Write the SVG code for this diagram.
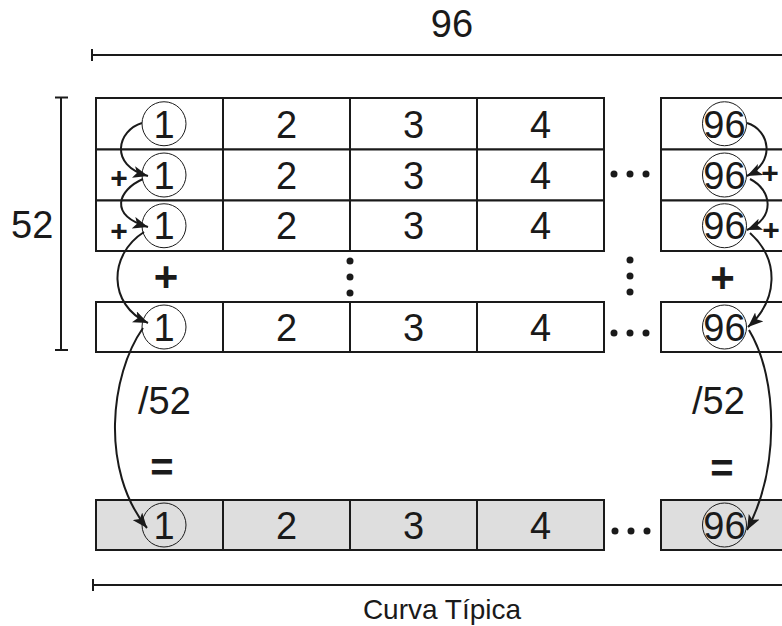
<svg xmlns="http://www.w3.org/2000/svg" width="782" height="626" viewBox="0 0 782 626">
<style>
.c{fill:#fff;stroke:#1a1a1a;stroke-width:2}
.g{fill:#dedede;stroke:#1a1a1a;stroke-width:2}
.o{fill:none;stroke:#1a1a1a;stroke-width:1}
.t{font-family:"Liberation Sans",Arial,sans-serif;font-size:38px;fill:#1a1a1a;text-anchor:middle}
.s{font-family:"Liberation Sans",Arial,sans-serif;fill:#1a1a1a;text-anchor:middle}
.b{font-family:"Liberation Sans",Arial,sans-serif;fill:#1a1a1a;text-anchor:middle;font-weight:bold}
.d{fill:#1a1a1a}
.ln{stroke:#1a1a1a;stroke-width:2;fill:none}
.ar{stroke:#1a1a1a;stroke-width:2;fill:none;marker-end:url(#ah)}
</style>
<defs>
<marker id="ah" markerUnits="userSpaceOnUse" markerWidth="16" markerHeight="12" refX="15" refY="6" orient="auto">
<path d="M0,0 L15,6 L0,12 L3.5,6 z" fill="#1a1a1a"/>
</marker>
</defs>
<rect width="782" height="626" fill="#fff"/>

<g id="dim-top">
<line class="ln" x1="92" y1="55" x2="782" y2="55"/>
<line class="ln" x1="92" y1="49" x2="92" y2="61"/>
<text class="t" x="452" y="37">96</text>
</g>
<g id="dim-left">
<line class="ln" x1="61" y1="97.5" x2="61" y2="350"/>
<line class="ln" x1="55" y1="97.5" x2="68" y2="97.5"/>
<line class="ln" x1="55" y1="350" x2="68" y2="350"/>
<text class="t" x="11" y="237.5" style="text-anchor:start">52</text>
</g>
<g id="dim-bottom">
<line class="ln" x1="93" y1="585" x2="782" y2="585"/>
<line class="ln" x1="93" y1="579" x2="93" y2="591"/>
<text class="s" x="442" y="619" font-size="28">Curva Típica</text>
</g>

<g id="row1">
<g id="r1c1"><rect class="c" x="96" y="98" width="127" height="51.5"/><circle class="o" cx="164" cy="123.75" r="22"/><text class="t" x="164" y="137.5">1</text></g>
<g id="r1c2"><rect class="c" x="223" y="98" width="127" height="51.5"/><text class="t" x="286.5" y="137.5">2</text></g>
<g id="r1c3"><rect class="c" x="350" y="98" width="127" height="51.5"/><text class="t" x="413.5" y="137.5">3</text></g>
<g id="r1c4"><rect class="c" x="477" y="98" width="127" height="51.5"/><text class="t" x="540.5" y="137.5">4</text></g>
<g id="r1c96"><rect class="c" x="661" y="98" width="127" height="51.5"/><circle class="o" cx="724.5" cy="123.75" r="22"/><text class="t" x="724.5" y="137.5">96</text></g>
</g>
<g id="row2">
<g id="r2c1"><rect class="c" x="96" y="149.5" width="127" height="51"/><circle class="o" cx="164" cy="175" r="22"/><text class="t" x="164" y="188.7">1</text></g>
<g id="r2c2"><rect class="c" x="223" y="149.5" width="127" height="51"/><text class="t" x="286.5" y="188.7">2</text></g>
<g id="r2c3"><rect class="c" x="350" y="149.5" width="127" height="51"/><text class="t" x="413.5" y="188.7">3</text></g>
<g id="r2c4"><rect class="c" x="477" y="149.5" width="127" height="51"/><text class="t" x="540.5" y="188.7">4</text></g>
<g id="r2c96"><rect class="c" x="661" y="149.5" width="127" height="51"/><circle class="o" cx="724.5" cy="175" r="22"/><text class="t" x="724.5" y="188.7">96</text></g>
</g>
<g id="row3">
<g id="r3c1"><rect class="c" x="96" y="200.5" width="127" height="50.5"/><circle class="o" cx="164" cy="225.75" r="22"/><text class="t" x="164" y="239.4">1</text></g>
<g id="r3c2"><rect class="c" x="223" y="200.5" width="127" height="50.5"/><text class="t" x="286.5" y="239.4">2</text></g>
<g id="r3c3"><rect class="c" x="350" y="200.5" width="127" height="50.5"/><text class="t" x="413.5" y="239.4">3</text></g>
<g id="r3c4"><rect class="c" x="477" y="200.5" width="127" height="50.5"/><text class="t" x="540.5" y="239.4">4</text></g>
<g id="r3c96"><rect class="c" x="661" y="200.5" width="127" height="50.5"/><circle class="o" cx="724.5" cy="225.75" r="22"/><text class="t" x="724.5" y="239.4">96</text></g>
</g>
<g id="row52">
<g id="r52c1"><rect class="c" x="96" y="302" width="127" height="50"/><circle class="o" cx="164" cy="327" r="22"/><text class="t" x="164" y="340.6">1</text></g>
<g id="r52c2"><rect class="c" x="223" y="302" width="127" height="50"/><text class="t" x="286.5" y="340.6">2</text></g>
<g id="r52c3"><rect class="c" x="350" y="302" width="127" height="50"/><text class="t" x="413.5" y="340.6">3</text></g>
<g id="r52c4"><rect class="c" x="477" y="302" width="127" height="50"/><text class="t" x="540.5" y="340.6">4</text></g>
<g id="r52c96"><rect class="c" x="661" y="302" width="127" height="50"/><circle class="o" cx="724.5" cy="327" r="22"/><text class="t" x="724.5" y="340.6">96</text></g>
</g>
<g id="rowavg">
<g id="rac1"><rect class="g" x="96" y="500" width="127" height="50"/><circle class="o" cx="164" cy="525" r="22"/><text class="t" x="164" y="538.6">1</text></g>
<g id="rac2"><rect class="g" x="223" y="500" width="127" height="50"/><text class="t" x="286.5" y="538.6">2</text></g>
<g id="rac3"><rect class="g" x="350" y="500" width="127" height="50"/><text class="t" x="413.5" y="538.6">3</text></g>
<g id="rac4"><rect class="g" x="477" y="500" width="127" height="50"/><text class="t" x="540.5" y="538.6">4</text></g>
<g id="rac96"><rect class="g" x="661" y="500" width="127" height="50"/><circle class="o" cx="724.5" cy="525" r="22"/><text class="t" x="724.5" y="538.6">96</text></g>
</g>

<g id="ellipses">
<circle class="d" cx="614" cy="174" r="3.5"/><circle class="d" cx="630" cy="174" r="3.5"/><circle class="d" cx="646" cy="174" r="3.5"/>
<circle class="d" cx="614" cy="333" r="3.5"/><circle class="d" cx="630" cy="333" r="3.5"/><circle class="d" cx="646" cy="333" r="3.5"/>
<circle class="d" cx="615" cy="531" r="3.5"/><circle class="d" cx="631" cy="531" r="3.5"/><circle class="d" cx="647" cy="531" r="3.5"/>
<circle class="d" cx="350" cy="261" r="3.5"/><circle class="d" cx="350" cy="277" r="3.5"/><circle class="d" cx="350" cy="293" r="3.5"/>
<circle class="d" cx="630" cy="260" r="3.5"/><circle class="d" cx="630" cy="276" r="3.5"/><circle class="d" cx="630" cy="292" r="3.5"/>
</g>

<g id="operators">
<text class="b" x="119" y="188" font-size="30">+</text>
<text class="b" x="119" y="241" font-size="30">+</text>
<text class="b" x="770" y="183" font-size="30">+</text>
<text class="b" x="771" y="240" font-size="30">+</text>
<text class="b" x="166" y="291" font-size="42">+</text>
<text class="b" x="722.5" y="292" font-size="42">+</text>
<text class="t" x="138" y="414" style="text-anchor:start">/52</text>
<text class="t" x="692" y="414" style="text-anchor:start">/52</text>
<text class="b" x="162" y="481" font-size="40">=</text>
<text class="b" x="722" y="482" font-size="40">=</text>
</g>

<g id="connectors">
<path class="ar" d="M142,123 C118,130 108,165 148,176"/>
<path class="ar" d="M143,179 C118,190 108,215 148,227"/>
<path class="ar" d="M144,232 C108,255 108,305 148,323"/>
<path class="ar" d="M143,328 C110,375 100,470 147,528"/>
<path class="ar" d="M747,123 C770,130 776,162 747,176"/>
<path class="ar" d="M750,179 C772,190 776,218 747,230"/>
<path class="ar" d="M750,233 C780,260 778,300 748,327"/>
<path class="ar" d="M749,330 C779,380 779,470 747,530"/>
</g>
</svg>
